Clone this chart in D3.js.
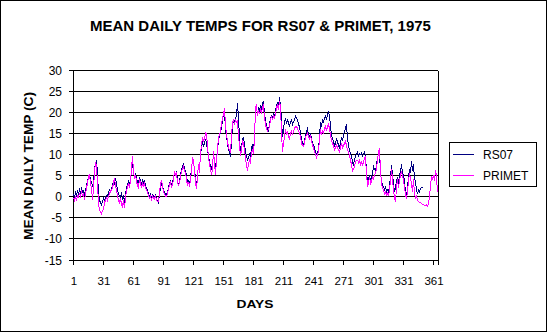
<!DOCTYPE html>
<html><head><meta charset="utf-8">
<script src="https://cdn.jsdelivr.net/npm/d3@7"></script>
<style>body{margin:0;background:#fff}svg{display:block}text{font-family:Arial,"Liberation Sans",sans-serif}</style>
</head><body><svg id="c" width="547" height="332"></svg>
<script>
const title = "MEAN DAILY TEMPS FOR RS07 & PRIMET, 1975";
const xTitle = "DAYS";
const yTitle = "MEAN DAILY TEMP (C)";
const seriesNames = ["RS07", "PRIMET"];
const xTicks = [1,31,61,91,121,151,181,211,241,271,301,331,361];
const yTicks = [-15,-10,-5,0,5,10,15,20,25,30];
const rs07 = [
 0.5,-0.5,0.8,0.2,1.2,0.5,1.5,0.8,1.8,1.0,
 1.2,0.5,1.5,2.5,3.5,4.5,5.0,4.0,3.2,2.5,
 3.0,6.5,7.5,8.6,5.5,0.5,-1.0,-1.5,-2.0,-1.2,
 -0.5,-1.0,-0.3,0.2,0.0,0.8,1.5,1.0,2.0,2.5,
 3.5,3.0,4.2,3.0,1.5,0.5,0.0,-0.5,1.0,-0.8,
 0.2,-1.5,0.5,2.0,2.8,3.5,2.5,4.0,6.0,8.0,
 5.5,4.5,5.5,4.0,3.5,3.0,4.5,3.5,2.8,4.0,
 3.0,3.8,2.5,2.0,1.5,0.5,0.0,0.5,-0.5,0.3,
 0.0,-0.5,0.5,-0.8,-1.0,-1.5,0.5,2.0,3.0,2.5,
 1.5,0.8,0.5,0.3,1.0,2.0,3.0,3.5,2.5,3.0,
 4.5,5.5,5.0,6.0,3.5,2.8,3.5,5.0,6.5,7.0,
 7.8,6.5,6.0,5.0,3.0,3.8,2.5,4.5,6.5,8.5,
 8.0,6.5,4.0,2.0,5.0,7.5,6.0,10.0,11.5,12.7,
 12.0,12.5,13.5,12.5,11.0,9.5,8.0,7.0,6.5,7.5,
 10.0,8.5,6.5,9.0,11.0,13.0,14.5,15.0,16.5,17.5,
 20.0,19.5,16.0,14.0,12.5,11.0,10.5,9.2,13.0,16.5,
 18.0,17.5,18.5,19.0,22.0,18.5,14.0,10.0,11.5,13.5,
 13.8,12.5,10.5,9.5,8.5,9.0,10.0,9.5,11.5,12.0,
 10.5,14.0,20.5,21.0,19.5,21.0,20.0,21.5,20.5,22.0,
 22.6,19.5,18.0,16.5,16.0,15.5,17.0,18.5,19.0,18.5,
 19.5,19.0,20.0,21.5,22.0,21.0,23.4,21.5,18.0,14.0,
 16.0,17.5,18.5,17.0,18.0,17.5,16.5,17.5,18.0,17.0,
 17.5,18.0,19.0,18.5,18.0,17.0,16.5,15.0,13.5,12.5,
 12.0,13.0,14.5,15.5,16.0,14.5,14.0,15.0,13.5,12.5,
 12.0,11.5,10.5,10.0,10.5,11.0,14.0,17.5,16.5,18.0,
 17.5,18.5,19.0,18.0,19.5,20.0,19.0,16.5,14.5,13.5,
 13.0,12.0,12.5,13.5,13.0,12.0,11.5,12.5,14.0,13.0,
 14.5,15.5,16.0,17.0,13.5,12.0,11.0,10.0,9.5,8.0,
 7.5,8.5,9.5,10.0,10.5,9.5,10.0,9.8,10.2,9.5,
 10.0,10.5,9.5,6.0,3.0,4.0,5.0,3.5,4.5,5.5,
 7.0,6.5,6.0,7.5,9.0,10.0,10.5,5.5,3.5,2.5,
 2.2,1.5,2.5,1.0,1.5,0.8,2.5,4.5,7.3,5.0,
 3.0,1.0,2.0,3.5,4.5,3.0,5.0,6.0,7.5,5.5,
 5.0,3.5,0.8,0.0,2.0,4.5,6.5,5.5,8.2,6.0,
 7.5,4.0,3.5,1.5,0.5,1.5,1.0,1.8,2.0,2.2
];
const primet = [
 -0.5,-1.0,0.0,-1.2,0.3,-0.5,0.8,0.0,1.0,0.2,
 0.5,-1.0,0.5,2.0,3.0,4.5,5.3,3.0,2.0,-1.0,
 2.0,5.5,8.0,7.0,3.0,-2.0,-3.0,-3.8,-4.2,-3.5,
 -3.0,-1.5,-1.0,-0.5,-1.0,0.0,0.5,1.2,1.5,2.0,
 3.0,4.4,2.5,1.5,0.0,-1.0,-1.5,-0.5,-2.0,-2.5,
 -1.0,-2.9,-0.5,1.5,2.0,3.0,2.0,3.5,6.5,9.4,
 6.0,4.0,5.0,3.5,2.5,2.0,4.0,3.0,2.0,3.0,
 2.5,3.0,2.0,1.5,1.0,0.0,-0.5,0.0,-1.0,0.0,
 -0.5,-0.8,0.3,-1.0,-1.2,-1.3,1.0,3.0,3.8,2.5,
 1.0,0.5,0.0,0.0,0.5,2.0,2.5,3.5,2.0,2.8,
 4.0,6.0,5.0,5.5,3.0,2.6,3.0,4.5,6.0,6.5,
 7.0,6.0,5.5,4.0,2.5,3.4,2.3,4.0,6.0,9.3,
 8.5,6.0,3.0,1.8,4.5,7.7,5.5,10.5,12.0,14.0,
 13.0,13.5,15.0,14.8,12.0,9.0,7.5,6.5,5.0,6.5,
 10.8,8.0,5.0,8.5,11.0,14.0,14.5,15.5,17.0,18.5,
 19.5,20.8,17.0,14.5,13.0,11.5,11.0,10.5,14.0,17.5,
 18.0,17.0,18.0,17.5,18.0,14.0,12.0,9.6,11.0,13.0,
 12.5,11.0,9.0,7.0,6.4,7.5,8.5,8.0,10.5,11.0,
 10.0,13.5,21.0,21.5,19.0,20.5,19.5,20.5,19.8,21.0,
 21.5,18.5,17.0,16.0,15.5,15.8,16.5,18.0,19.0,18.0,
 19.0,18.5,19.5,21.0,21.5,20.5,22.5,21.0,15.0,10.5,
 12.5,14.0,16.0,14.5,15.5,14.0,13.5,15.0,15.5,14.5,
 15.5,16.0,16.5,16.5,16.0,15.5,15.0,14.0,12.5,12.0,
 11.8,12.5,14.0,14.5,15.0,14.0,13.5,14.5,13.0,12.0,
 11.5,10.5,9.8,9.2,10.0,10.5,13.5,16.0,14.5,15.5,
 15.0,16.0,16.5,15.5,16.5,17.0,16.0,14.5,13.0,12.5,
 12.0,11.0,11.5,12.0,11.5,11.0,10.5,11.5,12.5,11.5,
 12.0,12.5,13.0,12.0,11.0,10.5,9.5,8.5,7.5,5.7,
 6.5,7.0,8.0,8.5,8.5,8.0,8.5,7.5,8.0,7.5,
 8.0,9.0,9.5,5.0,2.5,3.0,4.5,3.0,3.5,4.5,
 4.0,5.0,5.5,6.5,8.5,10.5,11.5,6.0,3.0,2.0,
 1.5,0.5,1.0,0.3,0.8,0.0,1.5,3.5,6.5,4.0,
 1.5,-0.5,-1.3,2.0,4.0,2.0,3.5,5.0,6.0,4.5,
 4.0,2.0,0.5,-0.6,1.0,3.5,5.5,4.0,3.0,1.0,
 4.0,0.5,-0.5,0.0,-1.0,-1.2,-1.5,-1.5,-1.8,-2.0,
 -2.0,-2.2,-2.3,-2.1,-2.4,-1.8,0.0,2.5,4.5,4.0,
 5.0,3.5,6.3,4.5,1.0
];
const colors = ["#000080", "#FF00FF"];

const svg = d3.select("#c");
const L = 73, R = 438, T = 69.5, B = 259.5;
const x = d3.scaleLinear().domain([0.5, 365.5]).range([L, R]);
const y = d3.scaleLinear().domain([-15, 30]).range([B, T]);

svg.append("rect").attr("x",0.5).attr("y",0.5).attr("width",546).attr("height",331)
  .attr("fill","#fff").attr("stroke","#000");

// gridlines
const g = svg.append("g").attr("shape-rendering","crispEdges");
g.selectAll("line.grid").data(yTicks).join("line")
  .attr("x1", L - 4).attr("x2", R)
  .attr("y1", d => Math.round(y(d)) + 0.5).attr("y2", d => Math.round(y(d)) + 0.5)
  .attr("stroke","#000");
// plot border
g.append("line").attr("x1",L+0.5).attr("x2",L+0.5).attr("y1",Math.round(T)+0.5).attr("y2",Math.round(B)+0.5).attr("stroke","#000");
g.append("line").attr("x1",R+0.5).attr("x2",R+0.5).attr("y1",Math.round(T)+0.5).attr("y2",Math.round(B)+0.5).attr("stroke","#000");
// x ticks
const tickPos = xTicks.map(d => d - 0.5).concat([365.5]);
g.selectAll("line.xt").data(tickPos).join("line")
  .attr("x1", d => Math.round(x(d)) + 0.5).attr("x2", d => Math.round(x(d)) + 0.5)
  .attr("y1", Math.round(B)).attr("y2", Math.round(B) + 5).attr("stroke","#000");

// y labels
svg.selectAll("text.yl").data(yTicks).join("text")
  .attr("x", 62).attr("y", d => Math.round(y(d)) + 4.5)
  .attr("text-anchor","end").attr("font-size", 12).text(d => d);
// x labels
svg.selectAll("text.xl").data(xTicks).join("text")
  .attr("x", d => x(d) + 0.5).attr("y", 285)
  .attr("text-anchor","middle").attr("font-size", 11.5).text(d => d);

// lines (RS07 first, PRIMET drawn on top)
const line = d3.line().defined(d => d[1] != null).x(d => x(d[0])).y(d => y(d[1]));
[rs07, primet].forEach((s, i) => {
  svg.append("path").datum(s.map((v, k) => [k + 1, v]))
    .attr("d", line).attr("fill","none").attr("stroke", colors[i]).attr("stroke-width", 1)
    .attr("shape-rendering","crispEdges");
});

// titles
svg.append("text").attr("x", 260.5).attr("y", 30.5).attr("text-anchor","middle")
  .attr("font-size", 15).attr("font-weight","bold").text(title);
svg.append("text").attr("x", 255).attr("y", 307.5).attr("text-anchor","middle")
  .attr("font-size", 11).attr("font-weight","bold").attr("textLength", 37).attr("lengthAdjust","spacingAndGlyphs").text(xTitle);
svg.append("text").attr("transform","translate(33,166) rotate(-90)").attr("text-anchor","middle")
  .attr("font-size", 12).attr("font-weight","bold").attr("textLength", 148).attr("lengthAdjust","spacingAndGlyphs").text(yTitle);

// legend
const lg = svg.append("g");
lg.append("rect").attr("x",449.5).attr("y",142.5).attr("width",87).attr("height",44)
  .attr("fill","#fff").attr("stroke","#000").attr("shape-rendering","crispEdges");
seriesNames.forEach((n, i) => {
  const yy = 154.5 + i * 21;
  lg.append("line").attr("x1",453).attr("x2",474).attr("y1",yy).attr("y2",yy)
    .attr("stroke",colors[i]).attr("shape-rendering","crispEdges");
  lg.append("text").attr("x",483).attr("y",yy+4.5).attr("font-size",12).text(n);
});
</script></body></html>
